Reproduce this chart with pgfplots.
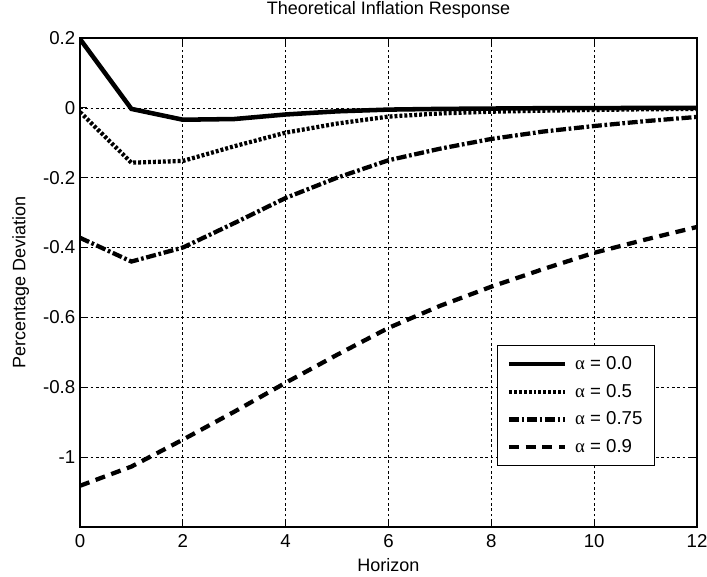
\documentclass[border=0pt]{standalone}
\usepackage{pgfplots}
\pgfplotsset{compat=1.18}
\usepackage{pgfplotstable}
\usepackage{fontspec}
\setmainfont{Liberation Sans}
\newfontfamily\greekfont{Liberation Serif}

\pgfplotstableread{
x a0 a5 a75 a9
0 0.197 -0.012 -0.372 -1.082
1 -0.003 -0.157 -0.440 -1.027
2 -0.034 -0.152 -0.400 -0.950
3 -0.032 -0.110 -0.330 -0.870
4 -0.019 -0.071 -0.258 -0.787
5 -0.010 -0.045 -0.200 -0.707
6 -0.005 -0.025 -0.150 -0.630
7 -0.003 -0.016 -0.117 -0.567
8 -0.002 -0.011 -0.089 -0.512
9 -0.001 -0.008 -0.068 -0.462
10 -0.001 -0.006 -0.052 -0.415
11 0.000 -0.004 -0.038 -0.377
12 0.000 -0.003 -0.026 -0.341
}\datatable

\begin{document}
\begin{tikzpicture}
\begin{axis}[
  at={(0,0)}, anchor=south west,
  scale only axis, width=462.75pt, height=366.75pt,
  xmin=0, xmax=12, ymin=-1.2, ymax=0.2,
  xtick={0,2,4,6,8,10,12}, xticklabels={0,2,4,6,8,10,12},
  ytick={-1,-0.8,-0.6,-0.4,-0.2,0,0.2},
  yticklabels={-1,-0.8,-0.6,-0.4,-0.2,0,0.2},
  grid=major,
  major grid style={black, line width=0.5pt, dash pattern=on 2pt off 2pt},
  tick align=inside, major tick length=5pt,
  tick style={black, line width=0.6pt},
  axis line style={black, line width=0.8pt},
  ticklabel style={font=\fontsize{14}{16}\selectfont},
  xticklabel style={anchor=base, yshift=-15.5pt},
  label style={font=\fontsize{13.5}{16}\selectfont},
  title style={font=\fontsize{13.5}{16}\selectfont, at={(axis description cs:0.5,1.0307)}, anchor=base},
  title={Theoretical Inflation Response},
  xlabel={Horizon},
  xlabel style={at={(axis description cs:0.5,-0.092)}, anchor=base},
  ylabel={Percentage Deviation},
  ylabel style={at={(axis description cs:-0.0886,0.5)}, anchor=base},
  legend style={at={(axis description cs:0.932,0.125)}, anchor=south east,
    draw=black, line width=0.8pt, fill=white,
    font=\fontsize{14}{16}\selectfont,
    inner xsep=7pt, inner ysep=6pt, row sep=5.5pt,
    nodes={inner sep=2pt}},
  legend cell align=left,
  legend image code/.code={\draw[#1] (0pt,0pt) -- (42pt,0pt); \path (46pt,0pt);},
]
\addplot[black, line width=3.4pt] table[x=x, y=a0] {\datatable};
\addlegendentry{{\greekfont α} = 0.0}
\addplot[black, line width=3.2pt, dash pattern=on 2.2pt off 1.5pt] table[x=x, y=a5] {\datatable};
\addlegendentry{{\greekfont α} = 0.5}
\addplot[black, line width=3.2pt, dash pattern=on 7.5pt off 2pt on 2pt off 2pt] table[x=x, y=a75] {\datatable};
\addlegendentry{{\greekfont α} = 0.75}
\addplot[black, line width=3.2pt, dash pattern=on 7.5pt off 5pt] table[x=x, y=a9] {\datatable};
\addlegendentry{{\greekfont α} = 0.9}
\end{axis}
\pgfresetboundingbox
\path[use as bounding box] (-60pt,-37.5pt) rectangle (470.25pt,395.25pt);
\end{tikzpicture}
\end{document}
